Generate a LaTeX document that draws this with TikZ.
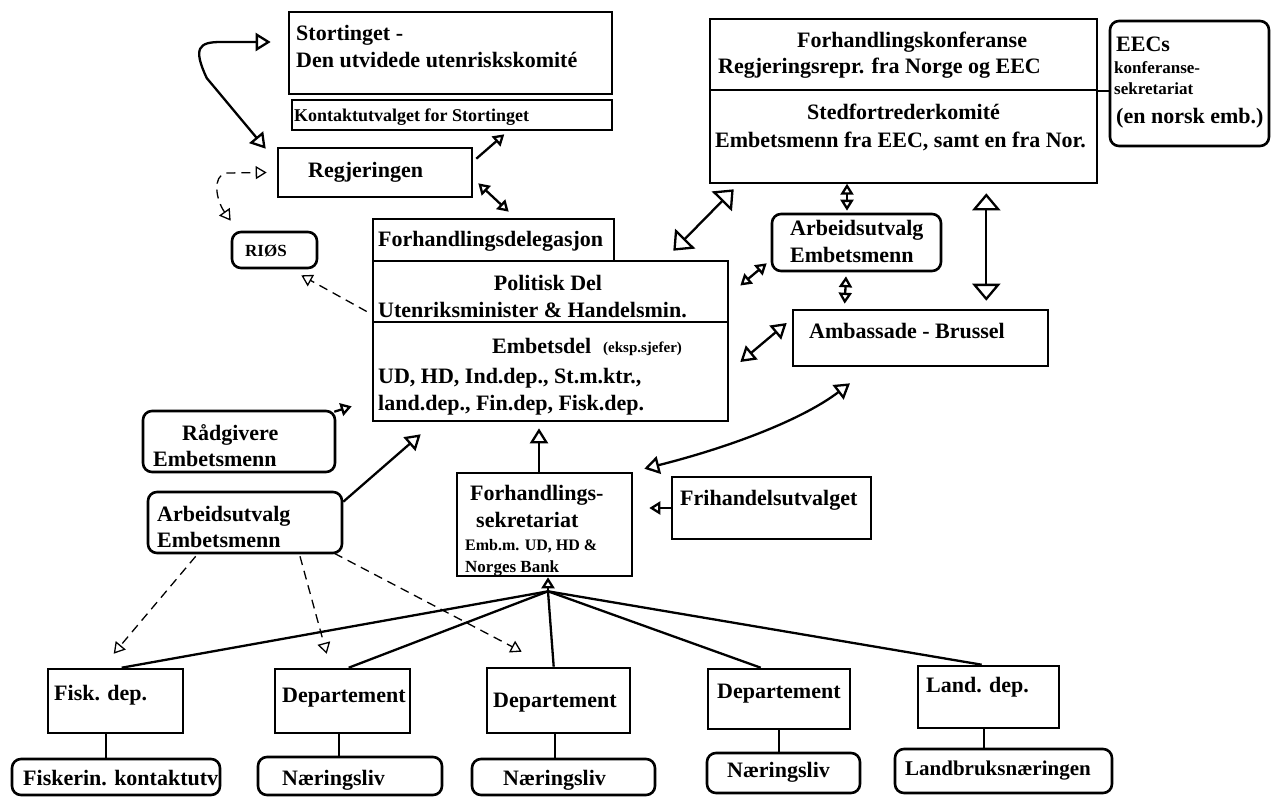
\documentclass[tikz,border=0pt]{standalone}
\usepackage{fontspec}
\setmainfont{Liberation Serif}
\usetikzlibrary{arrows.meta,fit,calc}
\begin{document}
\begin{tikzpicture}[x=1pt,y=-1pt,
  box/.style={draw, line width=2.6pt, inner sep=0pt},
  rbox/.style={box, rounded corners=9pt},
  t/.style={anchor=base west, inner sep=0pt, font=\fontsize{22}{26}\selectfont\bfseries},
  ts/.style={anchor=base west, inner sep=0pt, font=\fontsize{17}{20}\selectfont\bfseries},
  con/.style={line width=2.3pt},
  big/.tip={Triangle[open,length=17pt,width=28pt]},
  med/.tip={Triangle[open,length=15pt,width=18pt]},
  sml/.tip={Triangle[open,length=11pt,width=13pt]},
  dsh/.style={line width=1.3pt, dash pattern=on 9pt off 6pt},
  ]
\useasboundingbox (0,0) rectangle (1274,796);
\fill[white] (0,0) rectangle (1274,796);

% boxes
\node[box, fit={(289,12)(612,94)}] (stort) {};
\node[box, fit={(292,100)(612,130)}] (kontakt) {};
\node[box, fit={(278,148)(472,197)}] (regj) {};
\node[rbox, fit={(232,232)(317,268)}] (rios) {};
\node[box, fit={(373,219)(614,261)}] (deleg) {};
\node[box, fit={(373,261)(728,322)}] (pol) {};
\node[box, fit={(373,322)(728,421)}] (emb) {};
\node[box, fit={(710,19)(1097,90)}] (fkTop) {};
\node[box, fit={(710,90)(1097,183)}] (fkBot) {};
\node[rbox, fit={(1110,21)(1269,146)}] (eec) {};
\node[rbox, fit={(772,214)(941,271)}] (arbR) {};
\node[box, fit={(793,310)(1048,366)}] (amb) {};
\node[rbox, fit={(143,411)(335,472)}] (rad) {};
\node[rbox, fit={(148,492)(342,553)}] (arbL) {};
\node[box, fit={(457,473)(632,576)}] (sekr) {};
\node[box, fit={(672,477)(871,539)}] (fri) {};
\node[box, fit={(48,669)(183,733)}] (fisk) {};
\node[box, fit={(275,669)(410,733)}] (dep1) {};
\node[box, fit={(487,668)(630,733)}] (dep2) {};
\node[box, fit={(708,669)(850,729)}] (dep3) {};
\node[box, fit={(918,666)(1059,728)}] (land) {};
\node[rbox, fit={(12,759)(220,795)}] (fiskerin) {};
\node[rbox, fit={(258,757)(442,795)}] (naer1) {};
\node[rbox, fit={(472,759)(655,795)}] (naer2) {};
\node[rbox, fit={(707,753)(860,793)}] (naer3) {};
\node[rbox, fit={(895,749)(1112,793)}] (landb) {};

% texts
\node[t] (stort1) at (296,40) {Stortinget -};
\node[t] (stort2) at (296,67) {Den utvidede utenriskskomité};
\node[ts, font=\fontsize{18}{20}\selectfont\bfseries] (kontakt1) at (294,121) {Kontaktutvalget for Stortinget};
\node[t] (regj1) at (308,177) {Regjeringen};
\node[ts] (rios1) at (245,256) {RIØS};
\node[t] (deleg1) at (378,246) {Forhandlingsdelegasjon};
\node[t, anchor=base] (pol1) at (548,290) {Politisk Del};
\node[t] (pol2) at (378,317) {Utenriksminister \& Handelsmin.};
\node[t] (emb1) at (492,353) {Embetsdel};
\node[ts, font=\fontsize{15}{18}\selectfont\bfseries] (emb2) at (603,352) {(eksp.sjefer)};
\node[t] (emb3) at (378,383) {UD, HD, Ind.dep., St.m.ktr.,};
\node[t] (emb4) at (378,410) {land.dep., Fin.dep, Fisk.dep.};
\node[t] (fk1) at (797,47) {Forhandlingskonferanse};
\node[t] (fk2) at (718,73) {Regjeringsrepr. fra Norge og EEC};
\node[t] (fk3) at (807,119) {Stedfortrederkomité};
\node[t] (fk4) at (715,147) {Embetsmenn fra EEC, samt en fra Nor.};
\node[t] (eec1) at (1116,51) {EECs};
\node[ts] (eec2) at (1114,73) {konferanse-};
\node[ts] (eec3) at (1114,94) {sekretariat};
\node[t] (eec4) at (1116,123) {(en norsk emb.)};
\node[t] (arbR1) at (790,235) {Arbeidsutvalg};
\node[t] (arbR2) at (790,262) {Embetsmenn};
\node[t] (amb1) at (809,338) {Ambassade - Brussel};
\node[t] (rad1) at (182,440) {Rådgivere};
\node[t] (rad2) at (153,466) {Embetsmenn};
\node[t] (arbL1) at (157,521) {Arbeidsutvalg};
\node[t] (arbL2) at (157,547) {Embetsmenn};
\node[t] (sekr1) at (470,500) {Forhandlings-};
\node[t] (sekr2) at (476,527) {sekretariat};
\node[ts, font=\fontsize{16}{18}\selectfont\bfseries] (sekr3) at (465,550) {Emb.m. UD, HD \&};
\node[ts] (sekr4) at (465,572) {Norges Bank};
\node[t] (fri1) at (680,505) {Frihandelsutvalget};
\node[t] (fisk1) at (54,700) {Fisk. dep.};
\node[t] (dep1t) at (282,702) {Departement};
\node[t] (dep2t) at (493,707) {Departement};
\node[t] (dep3t) at (717,698) {Departement};
\node[t] (land1) at (926,692) {Land. dep.};
\node[t] (fiskerin1) at (23,785) {Fiskerin. kontaktutv};
\node[t] (naer1t) at (282,785) {Næringsliv};
\node[t] (naer2t) at (503,785) {Næringsliv};
\node[t] (naer3t) at (727,777) {Næringsliv};
\node[t, font=\fontsize{21}{24}\selectfont\bfseries] (landb1) at (905,775) {Landbruksnæringen};

% EEC link line
\draw[line width=2.2pt] (fkTop.south east) -- (fkTop.south east -| eec.west);

% connectors top-left
\draw[con, med-med] ($(stort.west)+(-17,-11)$) -- ++(-50,0)
  .. controls +(-22,0) and +(-14,-30) .. ++(-14,36) -- ($(regj.north west)+(-11,2)$);
\draw[con, -sml] ($(regj.north east)+(3,12)$) -- ($(kontakt.south east)+(-109,3)$);
\draw[con, sml-sml] ($(regj.south east)+(5,-15)$) -- ($(deleg.north west)+(137,-6)$);
\draw[dsh, sml-sml] ($(rios.north west)+(0,-10)$) .. controls (216,200) and (212,176) .. (226,173) -- ($(regj.west)+(-10,0)$);
\draw[dsh, -sml] ($(pol.west)+(-5,20)$) -- ($(rios.south east)+(-17,6)$);

% connectors right
\draw[con, big-big] ($(fkBot.south west)+(25,5)$) -- ($(pol.north east)+(-56,-9)$);
\draw[con, sml-sml] ($(arbR.north)+(-9.5,-29)$) -- ($(arbR.north)+(-9.5,-2)$);
\draw[con, sml-sml] ($(arbR.south)+(-10.5,4)$) -- ($(amb.north west)+(53,-5)$);
\draw[con, big-big] ($(fkBot.south east)+(-112,9)$) -- ($(amb.north east)+(-63,-8)$);
\draw[con, sml-sml] ($(pol.east)+(11,-6)$) -- ($(arbR.south west)+(-4,-9)$);
\draw[con, med-med] ($(emb.east)+(11,-9.5)$) -- ($(amb.west)+(-5,-15)$);
\draw[con, med-med] ($(sekr.north east)+(11,-3)$) .. controls +(80,-20) and +(-50,38) .. ($(amb.south)+(-70.5,16)$);

% connectors middle / left
\draw[con, -med] ($(sekr.north)+(-5.5,0)$) -- ($(emb.south)+(-11.5,6)$);
\draw[con, -sml] (fri.west) -- ($(sekr.east)+(16,-16.5)$);
\draw[con, -sml] ($(rad.north east)+(-2,2)$) -- ($(emb.south west)+(-20,-16)$);
\draw[con, -med] ($(arbL.north east)+(0,11)$) -- ($(emb.south west)+(49,12)$);
\draw[dsh, -sml] ($(arbL.south west)+(49,2)$) -- ($(fisk.north west)+(67,-14)$);
\draw[dsh, -sml] ($(arbL.south)+(55,2)$) -- ($(dep1.north west)+(53,-14)$);
\draw[dsh, -sml] ($(arbL.south east)+(-9,-1)$) -- ($(dep2.north west)+(36,-15)$);

% hub to departments
\coordinate (hub) at ($(sekr.south)+(3.5,14)$);
\draw[con, -sml] (hub) -- (hub |- sekr.south);
\draw[con] ($(fisk.north west)+(75,0)$) -- (hub);
\draw[con] ($(dep1.north west)+(75,0)$) -- (hub);
\draw[con] ($(dep2.north west)+(68,0)$) -- (hub);
\draw[con] ($(dep3.north west)+(54,0)$) -- (hub);
\draw[con] ($(land.north west)+(65,0)$) -- (hub);

% verticals to bottom boxes
\draw[con] ($(fisk.south west)+(59,0)$) coordinate (v1) -- (v1 |- fiskerin.north);
\draw[con] ($(dep1.south west)+(65,0)$) coordinate (v2) -- (v2 |- naer1.north);
\draw[con] ($(dep2.south west)+(69,0)$) coordinate (v3) -- (v3 |- naer2.north);
\draw[con] ($(dep3.south west)+(72,0)$) coordinate (v4) -- (v4 |- naer3.north);
\draw[con] ($(land.south west)+(67,0)$) coordinate (v5) -- (v5 |- landb.north);
\end{tikzpicture}
\end{document}
